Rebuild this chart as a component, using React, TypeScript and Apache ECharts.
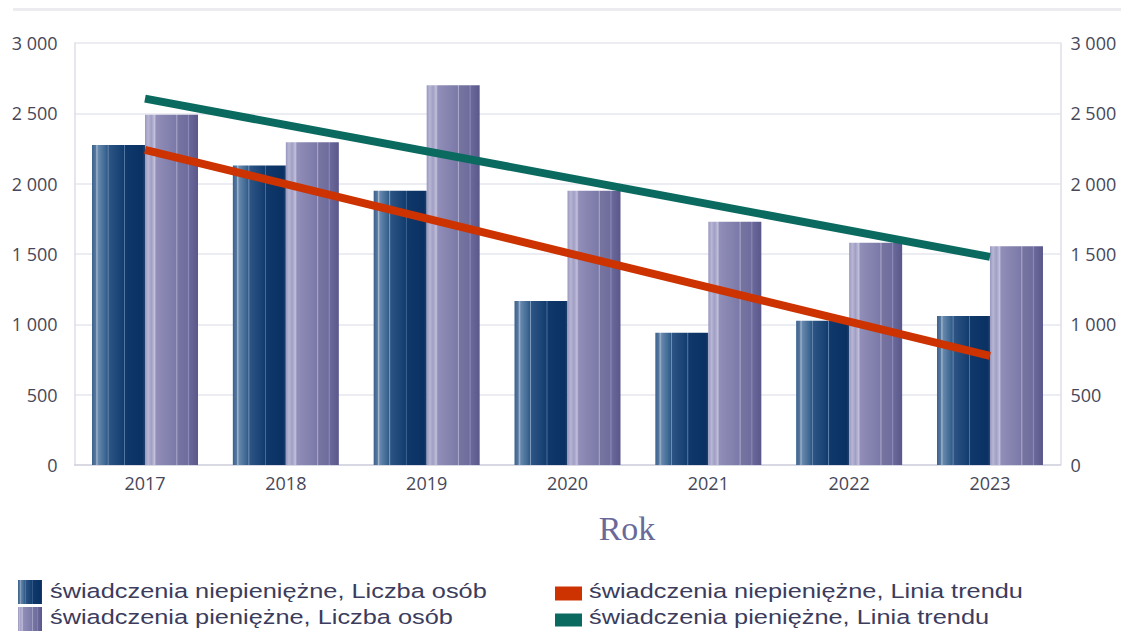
import React, { useEffect, useRef } from "react";
import * as echarts from "echarts";

const years = ["2017", "2018", "2019", "2020", "2021", "2022", "2023"];
const niepieniezne = [2275, 2130, 1950, 1165, 940, 1025, 1060];
const pieniezne = [2490, 2295, 2700, 1950, 1730, 1580, 1555];
const trendNiepieniezne = [2240, null, null, null, null, null, 775];
const trendPieniezne = [2605, null, null, null, null, null, 1480];
const yTicks = { min: 0, max: 3000, interval: 500 };

const seriesNames = [
  "świadczenia niepieniężne, Liczba osób",
  "świadczenia pieniężne, Liczba osób",
  "świadczenia niepieniężne, Linia trendu",
  "świadczenia pieniężne, Linia trendu",
];

function stops(list: [number, string][]) {
  const out: { offset: number; color: string }[] = [];
  list.forEach(([o, c]) => out.push({ offset: o, color: c }));
  return out;
}

const darkGrad = () =>
  new echarts.graphic.LinearGradient(
    0,
    0,
    1,
    0,
    stops([
      [0, "#3b618d"],
      [0.07, "#56799f"],
      [0.09, "#a3b6cd"],
      [0.12, "#6687ad"],
      [0.26, "#3a6590"],
      [0.29, "#2f5886"],
      [0.3, "#86a1c2"],
      [0.32, "#2c5484"],
      [0.5, "#1c4677"],
      [0.6, "#133c6e"],
      [0.61, "#5d80aa"],
      [0.63, "#0f386b"],
      [0.95, "#0b3163"],
      [1, "#1f416e"],
    ])
  );

const purpleGrad = () =>
  new echarts.graphic.LinearGradient(
    0,
    0,
    1,
    0,
    stops([
      [0, "#9896bf"],
      [0.06, "#b8b6d4"],
      [0.12, "#a09ec4"],
      [0.18, "#c2c0da"],
      [0.21, "#918fb9"],
      [0.45, "#8381ad"],
      [0.58, "#7b79a8"],
      [0.6, "#aba9cc"],
      [0.62, "#76749f"],
      [0.8, "#6f6d9e"],
      [0.82, "#8c8ab6"],
      [0.84, "#6a689a"],
      [1, "#5a588a"],
    ])
  );

const fmt = (v: number) => String(v).replace(/\B(?=(\d{3})+(?!\d))/g, " ");

export default function App() {
  const ref = useRef<HTMLDivElement>(null);
  useEffect(() => {
    document.body.style.margin = "0";
    const chart = echarts.init(ref.current!, null, { renderer: "svg" });
    const axisLabel = {
      color: "#474758",
      fontFamily: "Open Sans",
      fontSize: 18,
      formatter: (v: number) => fmt(v),
    };
    const legendText = {
      fontFamily: "Liberation Sans",
      fontSize: 19.5,
      fill: "#3c3c5c",
    };
    chart.setOption({
      animation: false,
      grid: { left: 74.6, right: 60.6, top: 43, bottom: 172 },
      xAxis: {
        type: "category",
        data: years,
        axisTick: { show: false },
        axisLine: { lineStyle: { color: "#d2d2e0", width: 1.5 } },
        axisLabel: {
          color: "#474758",
          fontFamily: "Open Sans",
          fontSize: 18,
          margin: 9,
        },
      },
      yAxis: [
        {
          type: "value",
          ...yTicks,
          position: "left",
          axisLine: { show: true, lineStyle: { color: "#dedee8", width: 1.5 } },
          axisTick: { show: false },
          splitLine: { lineStyle: { color: "#e6e6ef", width: 1.5 } },
          axisLabel: { ...axisLabel, margin: 17 },
        },
        {
          type: "value",
          ...yTicks,
          position: "right",
          axisLine: { show: true, lineStyle: { color: "#dedee8", width: 1.5 } },
          axisTick: { show: false },
          splitLine: { show: false },
          axisLabel: { ...axisLabel, margin: 10 },
        },
      ],
      series: [
        {
          name: seriesNames[0],
          type: "bar",
          data: niepieniezne,
          barWidth: 53,
          barGap: "0%",
          itemStyle: { color: darkGrad() },
        },
        {
          name: seriesNames[1],
          type: "bar",
          data: pieniezne,
          barWidth: 53,
          barGap: "0%",
          itemStyle: { color: purpleGrad() },
        },
        {
          name: seriesNames[2],
          type: "line",
          data: trendNiepieniezne,
          connectNulls: true,
          showSymbol: false,
          symbol: "none",
          lineStyle: { color: "#cc3300", width: 8, cap: "butt" },
          z: 5,
        },
        {
          name: seriesNames[3],
          type: "line",
          data: trendPieniezne,
          connectNulls: true,
          showSymbol: false,
          symbol: "none",
          lineStyle: { color: "#0b6a60", width: 8, cap: "butt" },
          z: 5,
        },
      ],
      graphic: [
        {
          type: "rect",
          left: 13,
          top: 8,
          shape: { width: 1108, height: 3 },
          style: { fill: "#ececf0" },
        },
        {
          type: "text",
          x: 627,
          y: 528,
          style: {
            text: "Rok",
            font: "34px 'Liberation Serif', serif",
            fill: "#6a6a9a",
            align: "center",
            verticalAlign: "middle",
          },
        },
        {
          type: "rect",
          x: 18,
          y: 580,
          shape: { width: 24, height: 24 },
          style: { fill: darkGrad() },
        },
        {
          type: "rect",
          x: 18,
          y: 607,
          shape: { width: 24, height: 24 },
          style: { fill: purpleGrad() },
        },
        {
          type: "rect",
          x: 555,
          y: 586.5,
          shape: { width: 27, height: 14 },
          style: { fill: "#cc3300" },
        },
        {
          type: "rect",
          x: 555,
          y: 613.5,
          shape: { width: 27, height: 13 },
          style: { fill: "#0b6a60" },
        },
        {
          type: "text",
          x: 50,
          y: 602,
          scaleX: 1.3,
          style: {
            text: seriesNames[0],
            font: "19.5px 'Liberation Sans', Arial, sans-serif",
            fill: legendText.fill,
            verticalAlign: "bottom",
          },
        },
        {
          type: "text",
          x: 50,
          y: 628,
          scaleX: 1.3,
          style: {
            text: seriesNames[1],
            font: "19.5px 'Liberation Sans', Arial, sans-serif",
            fill: legendText.fill,
            verticalAlign: "bottom",
          },
        },
        {
          type: "text",
          x: 589,
          y: 602,
          scaleX: 1.3,
          style: {
            text: seriesNames[2],
            font: "19.5px 'Liberation Sans', Arial, sans-serif",
            fill: legendText.fill,
            verticalAlign: "bottom",
          },
        },
        {
          type: "text",
          x: 589,
          y: 628,
          scaleX: 1.3,
          style: {
            text: seriesNames[3],
            font: "19.5px 'Liberation Sans', Arial, sans-serif",
            fill: legendText.fill,
            verticalAlign: "bottom",
          },
        },
      ],
    });
    return () => chart.dispose();
  }, []);
  return (
    <div
      ref={ref}
      style={{ position: "absolute", left: 0, top: 0, width: 1121, height: 637 }}
    />
  );
}
